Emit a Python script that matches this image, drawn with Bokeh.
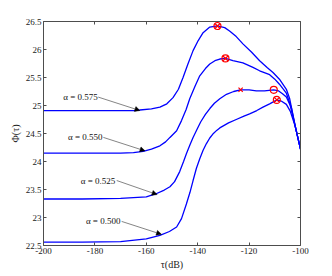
from bokeh.plotting import figure
from bokeh.models import (FixedTicker, LinearAxis, Arrow, NormalHead, Range1d,
                          ColumnDataSource)
from bokeh.core.properties import value
from bokeh.embed import file_html
from bokeh.resources import INLINE

# ---- data ----
tau_575 = [-200, -185, -170, -165, -162.5, -158, -154.7, -152, -149.6, -147.5, -145.7, -143.8,
           -141.8, -139.8, -137.9, -135.3, -132.3, -129.5, -127.6, -125, -122.4, -119, -115.9,
           -113, -110.7, -108.2, -105.5, -104.2, -102, -100]
phi_575 = [24.91, 24.91, 24.91, 24.91, 24.92, 24.94, 24.97, 25.03, 25.14, 25.29, 25.50, 25.74,
           25.98, 26.16, 26.30, 26.40, 26.42, 26.39, 26.33, 26.23, 26.10, 25.95, 25.80,
           25.68, 25.59, 25.47, 25.29, 25.12, 24.62, 24.22]

tau_550 = [-200, -185, -170, -165, -161.2, -158, -154.7, -152.5, -150.8, -148.2, -146.3, -144.5,
           -143.1, -141, -139.2, -137, -135.3, -133.3, -131.4, -129.2, -126.3, -122.4, -118.5,
           -115.9, -112, -110, -108.2, -105.5, -103.5, -102, -100]
phi_550 = [24.15, 24.15, 24.15, 24.16, 24.18, 24.22, 24.28, 24.35, 24.43, 24.55, 24.73, 24.93,
           25.12, 25.35, 25.53, 25.66, 25.74, 25.80, 25.83, 25.84, 25.80, 25.76, 25.68,
           25.62, 25.55, 25.47, 25.38, 25.22, 24.95, 24.62, 24.22]

tau_525 = [-200, -185, -170, -160, -156.4, -153, -150.8, -149, -147, -145.5, -144.4, -143,
           -141.8, -140.2, -138.8, -137, -135.2, -133.5, -131.4, -128.8, -126, -123.3, -120,
           -117.2, -114, -110.4, -108.5, -107, -105.5, -104, -102, -100]
phi_525 = [23.33, 23.33, 23.34, 23.37, 23.42, 23.49, 23.55, 23.64, 23.82, 24.00, 24.14, 24.30,
           24.43, 24.58, 24.71, 24.84, 24.95, 25.04, 25.12, 25.20, 25.25, 25.28, 25.28,
           25.26, 25.26, 25.28, 25.26, 25.21, 25.15, 25.00, 24.62, 24.22]

tau_500 = [-200, -185, -170, -160, -154.7, -151, -148.2, -146.3, -144.4, -143, -141.8, -140.5,
           -139.2, -137.9, -136.6, -135.3, -134.1, -132.5, -131.4, -128, -125, -122, -119.8,
           -117, -114.6, -112, -109.2, -107.5, -105.5, -104, -102, -100]
phi_500 = [22.56, 22.56, 22.57, 22.62, 22.68, 22.75, 22.83, 22.98, 23.24, 23.45, 23.66, 23.88,
           24.05, 24.20, 24.32, 24.42, 24.49, 24.56, 24.60, 24.69, 24.75, 24.81, 24.85,
           24.91, 24.97, 25.03, 25.10, 25.08, 25.02, 24.90, 24.62, 24.22]

# maxima markers (circle with x)
max_tau = [-132.3, -129.2, -109.2]
max_phi = [26.42, 25.84, 25.10]
# alpha = 0.525 special points
x_mark_tau = [-123.3]
x_mark_phi = [25.28]
o_mark_tau = [-110.4]
o_mark_phi = [25.28]

# annotations
ann_text = ["α = 0.575", "α = 0.550", "α = 0.525", "α = 0.500"]
ann_text_tau = [-192.3, -190.5, -185.5, -183.5]
ann_tail_tau = [-178.7, -176.7, -171.5, -169.6]
ann_phi = [25.15, 24.43, 23.66, 22.93]
ann_head_tau = [-162.5, -160.5, -155.8, -154.1]
ann_head_phi = [24.91, 24.19, 23.41, 22.70]

x_ticks = [-200, -180, -160, -140, -120, -100]
x_tick_labels = ["-200", "-180", "-160", "-140", "-120", "-100"]
y_ticks = [22.5, 23, 23.5, 24, 24.5, 25, 25.5, 26, 26.5]
y_tick_labels = ["22.5", "23", "23.5", "24", "24.5", "25", "25.5", "26", "26.5"]

FONT = "'Liberation Serif', serif"
AXC = "#4d4d4d"

p = figure(width=332, height=276, x_range=Range1d(-200, -100), y_range=Range1d(22.5, 26.5),
           output_backend="svg", toolbar_location=None,
           min_border_left=43, min_border_right=32, min_border_top=21, min_border_bottom=31)
p.xgrid.visible = False
p.ygrid.visible = False
p.outline_line_color = None
p.background_fill_color = "white"


def style_axis(ax, ticks, labels, show_labels):
    ax.ticker = FixedTicker(ticks=ticks)
    if show_labels:
        ax.major_label_overrides = {t: l for t, l in zip(ticks, labels)}
    else:
        ax.major_label_overrides = {t: "" for t in ticks}
    ax.major_tick_in = 3
    ax.major_tick_out = 0
    ax.minor_tick_in = 0
    ax.minor_tick_out = 0
    ax.axis_line_color = AXC
    ax.major_tick_line_color = AXC
    ax.major_label_text_font = FONT
    ax.major_label_text_font_size = "9px"
    ax.major_label_text_color = "#222222"
    ax.major_label_standoff = 2


style_axis(p.xaxis[0], x_ticks, x_tick_labels, True)
style_axis(p.yaxis[0], y_ticks, y_tick_labels, True)
p.xaxis[0].axis_label = "τ(dB)"
p.yaxis[0].axis_label = "Φ(τ)"
for ax in (p.xaxis[0], p.yaxis[0]):
    ax.axis_label_text_font = FONT
    ax.axis_label_text_font_size = "10px"
    ax.axis_label_text_font_style = "normal"
    ax.axis_label_text_color = "#222222"
    ax.axis_label_standoff = 2

top = LinearAxis()
style_axis(top, x_ticks, x_tick_labels, False)
p.add_layout(top, "above")
right = LinearAxis()
style_axis(right, y_ticks, y_tick_labels, False)
p.add_layout(right, "right")

BLUE = "#0000ff"
for t, f in ((tau_575, phi_575), (tau_550, phi_550), (tau_525, phi_525), (tau_500, phi_500)):
    p.line(t, f, line_color=BLUE, line_width=1.3)

p.scatter(max_tau, max_phi, marker="circle_x", size=7, line_color="red",
          fill_color=None, line_width=1.2)
p.scatter(x_mark_tau, x_mark_phi, marker="x", size=6, line_color="red", line_width=1.2)
p.scatter(o_mark_tau, o_mark_phi, marker="circle", size=7, line_color="red",
          fill_color=None, line_width=1.2)

arr_src = ColumnDataSource(dict(x0=ann_tail_tau, y0=ann_phi, x1=ann_head_tau, y1=ann_head_phi))
p.add_layout(Arrow(end=NormalHead(size=5, fill_color="black", line_color="black", line_width=0.5),
                   x_start="x0", y_start="y0", x_end="x1", y_end="y1", source=arr_src,
                   line_color="#333333", line_width=0.6))
p.text(x=ann_text_tau, y=ann_phi, text=ann_text, text_font=value(FONT),
       text_font_size="9px", text_baseline="middle", text_align="left", text_color="#111111")

open("out.html", "w").write(file_html(p, INLINE))
